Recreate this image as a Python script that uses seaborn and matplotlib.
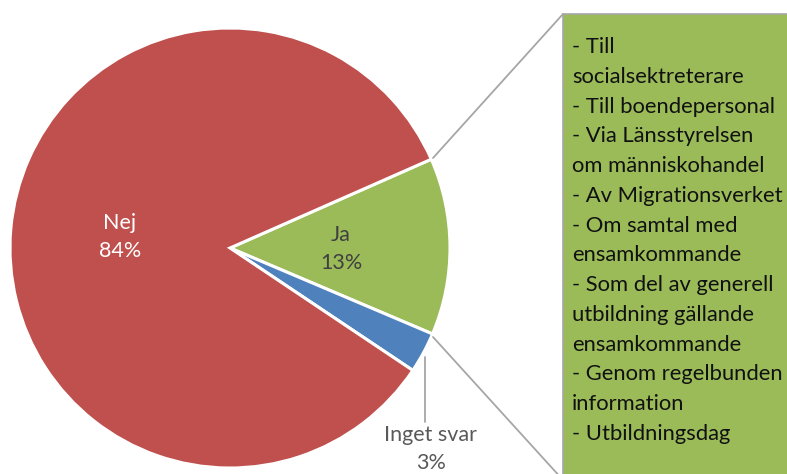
import matplotlib
matplotlib.use("Agg")
import matplotlib.pyplot as plt
import seaborn as sns
from matplotlib.patches import Rectangle

categories = ["Ja", "Inget svar", "Nej"]
values = [13, 3, 84]
colors = ["#9BBB59", "#4F81BD", "#C0504D"]
box_lines = [
    "- Till",
    "socialsektreterare",
    "- Till boendepersonal",
    "- Via Länsstyrelsen",
    "om människohandel",
    "- Av Migrationsverket",
    "- Om samtal med",
    "ensamkommande",
    "- Som del av generell",
    "utbildning gällande",
    "ensamkommande",
    "- Genom regelbunden",
    "information",
    "- Utbildningsdag",
]

sns.set_theme(style="white")
plt.rcParams["font.family"] = ["Lato", "DejaVu Sans"]

W, H = 787, 474
fig = plt.figure(figsize=(W / 100, H / 100), dpi=100)
ax = fig.add_axes([0, 0, 1, 1])

cx, cy, r = 230, H - 248, 220
wedges, _ = ax.pie(values, colors=colors, startangle=23.8, counterclock=False,
                   center=(cx, cy), radius=r, frame=True,
                   wedgeprops=dict(edgecolor="white", linewidth=2.2))
ax.set_xlim(0, W)
ax.set_ylim(0, H)
ax.set_aspect("equal")
ax.axis("off")

# data labels
lbl = dict(fontsize=15.5, ha="center", va="center", linespacing=1.45)
ax.text(120, H - 237, f"{categories[2]}\n{values[2]}%", color="white", **lbl)
ax.text(341, H - 249, f"{categories[0]}\n{values[0]}%", color="#404040", **lbl)
ax.text(431, H - 449, f"{categories[1]}\n{values[1]}%", color="#595959", **lbl)
ax.plot([425, 425], [H - 357, H - 422], color="#A6A6A6", lw=1.3)

# connector lines to box
ax.plot([563, 433], [H - 14, H - 158], color="#A6A6A6", lw=1.3)
ax.plot([433, 563], [H - 337, H - 480], color="#A6A6A6", lw=1.3)

# callout box
ax.add_patch(Rectangle((563, -20), 260, (H - 14) + 20, facecolor="#9BBB59",
                       edgecolor="#A6A6A6", lw=1.2, clip_on=True))
ax.text(572, H - 37, "\n".join(box_lines), color="#111111", fontsize=15.8,
        ha="left", va="top", linespacing=1.61)

fig.savefig("out.png", dpi=100)
